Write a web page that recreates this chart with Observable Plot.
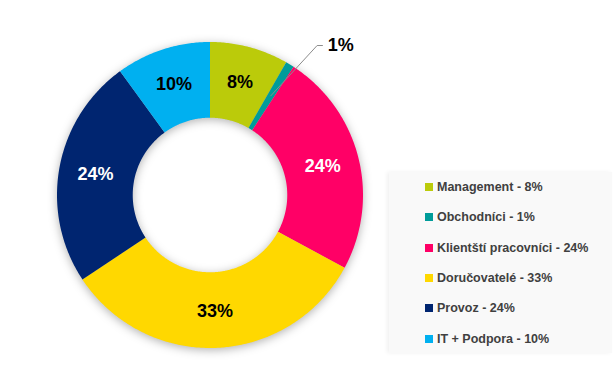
<!DOCTYPE html>
<html>
<head>
<meta charset="utf-8">
<script src="https://cdn.jsdelivr.net/npm/d3@7"></script>
<script src="https://cdn.jsdelivr.net/npm/@observablehq/plot@0.6"></script>
<style>
  html, body { margin: 0; padding: 0; background: #fff; }
  #wrap { position: relative; width: 615px; height: 380px; font-family: "Liberation Sans", Arial, sans-serif; }
  #legend { position: absolute; left: 389px; top: 172px; width: 223px; height: 181px; background: #f9f9f9; box-shadow: -2px 0 4px rgba(0,0,0,0.06); }
  .item { position: absolute; left: 36px; height: 16px; line-height: 16px; font-size: 12.5px; font-weight: bold; color: #404040; white-space: nowrap; }
  .sw { display: inline-block; width: 8px; height: 8px; margin-right: 4px; vertical-align: 0px; }
</style>
</head>
<body>
<div id="wrap"></div>
<script>
// Data
const categories = ["Management", "Obchodníci", "Klientští pracovníci", "Doručovatelé", "Provoz", "IT + Podpora"];
const values = [8.3, 0.9, 23.7, 32.8, 24.3, 10.0];
const labels = ["8%", "1%", "24%", "33%", "24%", "10%"];
const colors = ["#BBCB0A", "#009C9A", "#FF0066", "#FFD800", "#002570", "#00B0F0"];
const labelColors = ["#000000", "#000000", "#ffffff", "#000000", "#ffffff", "#000000"];

const innerR = 0.505, outerR = 1, labelR = 0.76;
const total = d3.sum(values);

// Build slice polygons (arc geometry derived from the values)
const slices = [];
const labelRows = [];
let acc = 0;
values.forEach((v, i) => {
  const a0 = acc / total * 2 * Math.PI;
  acc += v;
  const a1 = acc / total * 2 * Math.PI;
  const n = Math.max(4, Math.ceil((a1 - a0) / 0.01));
  const pts = [];
  for (let k = 0; k <= n; k++) {
    const a = a0 + (a1 - a0) * k / n;
    pts.push({cat: categories[i], x: outerR * Math.sin(a), y: outerR * Math.cos(a)});
  }
  for (let k = n; k >= 0; k--) {
    const a = a0 + (a1 - a0) * k / n;
    pts.push({cat: categories[i], x: innerR * Math.sin(a), y: innerR * Math.cos(a)});
  }
  slices.push(...pts);
  const am = (a0 + a1) / 2;
  labelRows.push({cat: categories[i], label: labels[i], color: labelColors[i], x: labelR * Math.sin(am), y: labelR * Math.cos(am), small: v < 3});
});

const inside = labelRows.filter(d => !d.small);
const outside = labelRows.filter(d => d.small);
// leader line for small slice
const leader = [];
outside.forEach(d => {
  leader.push({cat: d.cat, x: d.x, y: d.y});
  leader.push({cat: d.cat, x: 0.70, y: 0.977});
  leader.push({cat: d.cat, x: 0.735, y: 0.977});
});

const chart = Plot.plot({
  width: 615,
  height: 380,
  margin: 0,
  x: {domain: [-1, 1], range: [56.5, 362.5], axis: null},
  y: {domain: [-1, 1], range: [347.5, 41.5], axis: null},
  color: {domain: categories, range: colors},
  style: {fontFamily: "'Liberation Sans', Arial, sans-serif", background: "transparent"},
  marks: [
    Plot.line(slices, {x: "x", y: "y", z: "cat", fill: "cat", stroke: null, curve: "linear-closed"}),
    Plot.line(leader, {x: "x", y: "y", z: "cat", stroke: "#8c8c8c", strokeWidth: 1}),
    Plot.text(inside, {x: "x", y: "y", text: "label", fill: "color", fontSize: 18, fontWeight: "bold"}),
    Plot.text(outside, {x: 0.77, y: 0.977, text: "label", fill: "#000", fontSize: 18, fontWeight: "bold", textAnchor: "start"})
  ]
});

const lineG = chart.querySelector('g[aria-label="line"]');
if (lineG) lineG.style.filter = "drop-shadow(0px 2px 5px rgba(0,0,0,0.3))";

const wrap = document.getElementById("wrap");
wrap.appendChild(chart);

const legend = document.createElement("div");
legend.id = "legend";
categories.forEach((c, i) => {
  const it = document.createElement("div");
  it.className = "item";
  it.style.top = (7 + i * 30.3) + "px";
  it.innerHTML = `<span class="sw" style="background:${colors[i]}"></span>${c} - ${labels[i]}`;
  legend.appendChild(it);
});
wrap.appendChild(legend);
</script>
</body>
</html>
